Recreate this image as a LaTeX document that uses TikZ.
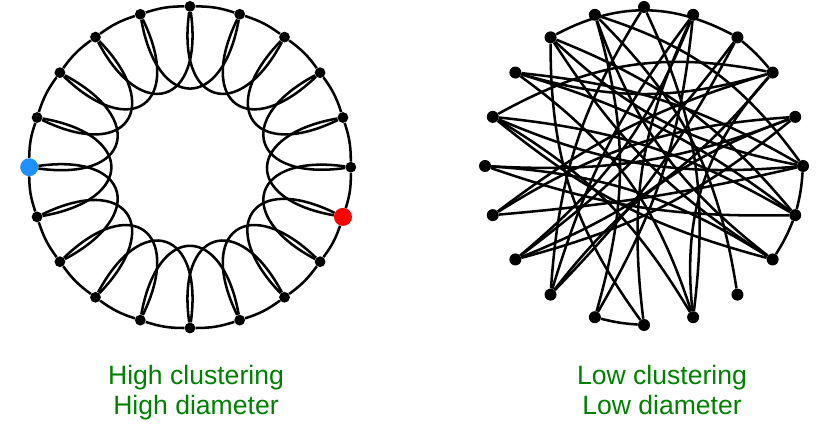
\documentclass[tikz,border=0pt]{standalone}
\usepackage{fontspec}
\setmainfont{Liberation Sans}
\usepackage{tikz}
\usetikzlibrary{positioning}
\definecolor{capgreen}{RGB}{0,128,0}
\definecolor{startblue}{RGB}{30,144,255}
\definecolor{endred}{RGB}{255,0,0}

\begin{document}
\begin{tikzpicture}[
  vtx/.style={circle, fill=black, inner sep=0pt, minimum size=0.27cm},
  bluevtx/.style={vtx, fill=startblue, minimum size=0.45cm},
  redvtx/.style={vtx, fill=endred, minimum size=0.45cm},
  link/.style={line width=1.8pt, black},
  caption/.style={font=\fontsize{18.9}{22}\selectfont, text=capgreen, anchor=base}
]
  \useasboundingbox (0,0) rectangle (20.45,11);

  % Ring lattice (left)
  \coordinate (lc) at (4.75,6.82);
  \foreach \i in {0,...,19}{
    \ifnum\i=15 \def\vs{bluevtx}\else\ifnum\i=6 \def\vs{redvtx}\else\def\vs{vtx}\fi\fi
    \path (lc) ++({90-18*\i}:4.02) node[\vs] (a\i) {};
  }
  \foreach \i in {0,...,19}{
    \pgfmathtruncatemacro{\j}{mod(\i+1,20)}
    \pgfmathtruncatemacro{\k}{mod(\i+2,20)}
    \pgfmathtruncatemacro{\ao}{270-18*\i-8}
    \pgfmathtruncatemacro{\ai}{270-18*(\i+2)+8}
    \draw[link] (a\i) to[bend left=9] (a\j);
    \draw[link] (a\i) to[out=\ao, in=\ai, looseness=2.45] (a\k);
  }

  % Rewired graph (right)
  \coordinate (rc) at (16.1,6.85);
  \foreach \i in {0,...,19}{
    \path (rc) ++({90-18*\i}:3.975) node[vtx, minimum size=0.3cm] (b\i) {};
  }
  \foreach \s/\t/\b in {2/3/5, 5/6/5, 6/7/5, 10/11/5,
                        6/16/-12, 6/17/-10, 6/18/-14,
                        7/18/12, 7/19/16, 8/19/-18,
                        5/14/4, 5/16/14, 5/17/-12,
                        4/14/-14, 4/15/12,
                        3/16/-20, 3/17/16, 3/13/14, 3/9/-24,
                        2/13/8, 2/18/-28,
                        1/10/-16, 1/11/12, 1/12/-10, 1/13/14,
                        0/12/-14, 0/9/16,
                        18/10/-18, 17/9/18, 15/7/14, 11/19/-16,
                        12/4/16, 16/7/-12, 15/6/-10, 19/5/18,
                        13/4/-12, 14/3/10, 12/2/-8, 16/9/14, 18/5/-16}{
    \draw[link] (b\s) to[bend left=\b] (b\t);
  }

  % Captions
  \node[caption] (hiclust) at (4.9,1.4) {High clustering};
  \node[caption] (hidiam)  at (4.9,0.65) {High diameter};
  \node[caption] (loclust) at (16.55,1.4) {Low clustering};
  \node[caption] (lodiam)  at (16.55,0.65) {Low diameter};
\end{tikzpicture}
\end{document}
